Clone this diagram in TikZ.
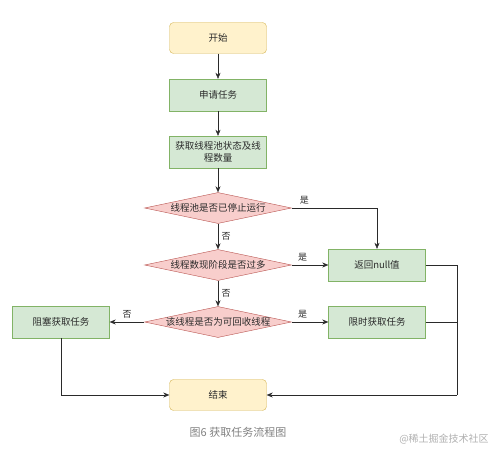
\documentclass[tikz,border=0pt]{standalone}
\usepackage{fontspec}
\setmainfont{Noto Sans CJK SC}
\usepackage{xcolor}
\usepackage{tikz}
\usetikzlibrary{arrows.meta, positioning, shapes.geometric}
\definecolor{startfill}{HTML}{FFF2CC}
\definecolor{startline}{HTML}{D6B656}
\definecolor{procfill}{HTML}{D5E8D4}
\definecolor{procline}{HTML}{82B366}
\definecolor{askfill}{HTML}{F8CECC}
\definecolor{askline}{HTML}{B85450}
\definecolor{flowgray}{HTML}{2A2A2A}
\definecolor{capgray}{HTML}{808080}
\definecolor{markgray}{HTML}{B0B0B0}
\tikzset{
    terminal/.style={rectangle, rounded corners=4pt, draw=startline, fill=startfill,
        minimum width=97pt, minimum height=31pt, inner sep=0pt, text=flowgray,
        font=\fontsize{9.5}{11}\selectfont},
    process/.style={rectangle, draw=procline, fill=procfill,
        minimum width=97pt, minimum height=32pt, inner sep=0pt, align=center,
        text=flowgray, font=\fontsize{9.5}{12}\selectfont},
    decision/.style={diamond, draw=askline, fill=askfill,
        minimum width=147pt, minimum height=31pt, inner sep=0pt,
        label={[font=\fontsize{9.5}{11}\selectfont, text=flowgray]center:#1}},
    yesno/.style={font=\fontsize{9}{10}\selectfont, text=flowgray},
    flow/.style={draw=flowgray, -{Stealth[length=6pt, width=5pt]}}
}
\begin{document}
\begin{tikzpicture}[x=1pt, y=-1pt, >=Stealth]
    \useasboundingbox (0,0) rectangle (504,457);
    % main column
    \node[terminal] (start) at (218,38) {开始};
    \node[process] (apply) at (218,95) {申请任务};
    \node[process] (state) at (218,152) {获取线程池状态及线\\程数量};
    \node[decision={线程池是否已停止运行}] (stopped) at (218,208) {};
    \node[decision={线程数现阶段是否过多}] (toomany) at (218,265) {};
    \node[decision={该线程是否为可回收线程}] (recycle) at (218,322) {};
    \node[terminal] (finish) at (218,395) {结束};
    % side boxes
    \node[process] (retnull) at (377,265) {返回null值};
    \node[process] (timed) at (377,322) {限时获取任务};
    \node[process] (block) at (61,322) {阻塞获取任务};
    \coordinate (rightbus) at (457,395);
    % connectors
    \draw[flow] (start) -- (apply);
    \draw[flow] (apply) -- (state);
    \draw[flow] (state) -- (stopped);
    \draw[flow] (stopped) -- (toomany) node[yesno, midway, right=0pt] {否};
    \draw[flow] (toomany) -- (recycle) node[yesno, midway, right=0pt] {否};
    \draw[flow] (stopped.east) -| (retnull.north) node[yesno, pos=0.075, above] {是};
    \draw[flow] (toomany.east) -- (retnull.west) node[yesno, pos=0.3, above] {是};
    \draw[flow] (recycle.east) -- (timed.west) node[yesno, pos=0.3, above] {是};
    \draw[flow] (recycle.west) -- (block.east) node[yesno, pos=0.5, above] {否};
    \draw[flow] (block.south) |- (finish.west);
    \draw[draw=flowgray] (retnull.east) -| (rightbus);
    \draw[draw=flowgray] (timed.east) -- (timed.east -| rightbus);
    \draw[flow] (rightbus) -- (finish.east);
    % caption and mark
    \node[text=capgray, font=\fontsize{11}{13}\selectfont] (caption) at (238,432) {图6 获取任务流程图};
    \node[text=markgray, font=\fontsize{10}{12}\selectfont] (mark) at (444,439) {@稀土掘金技术社区};
\end{tikzpicture}
\end{document}
